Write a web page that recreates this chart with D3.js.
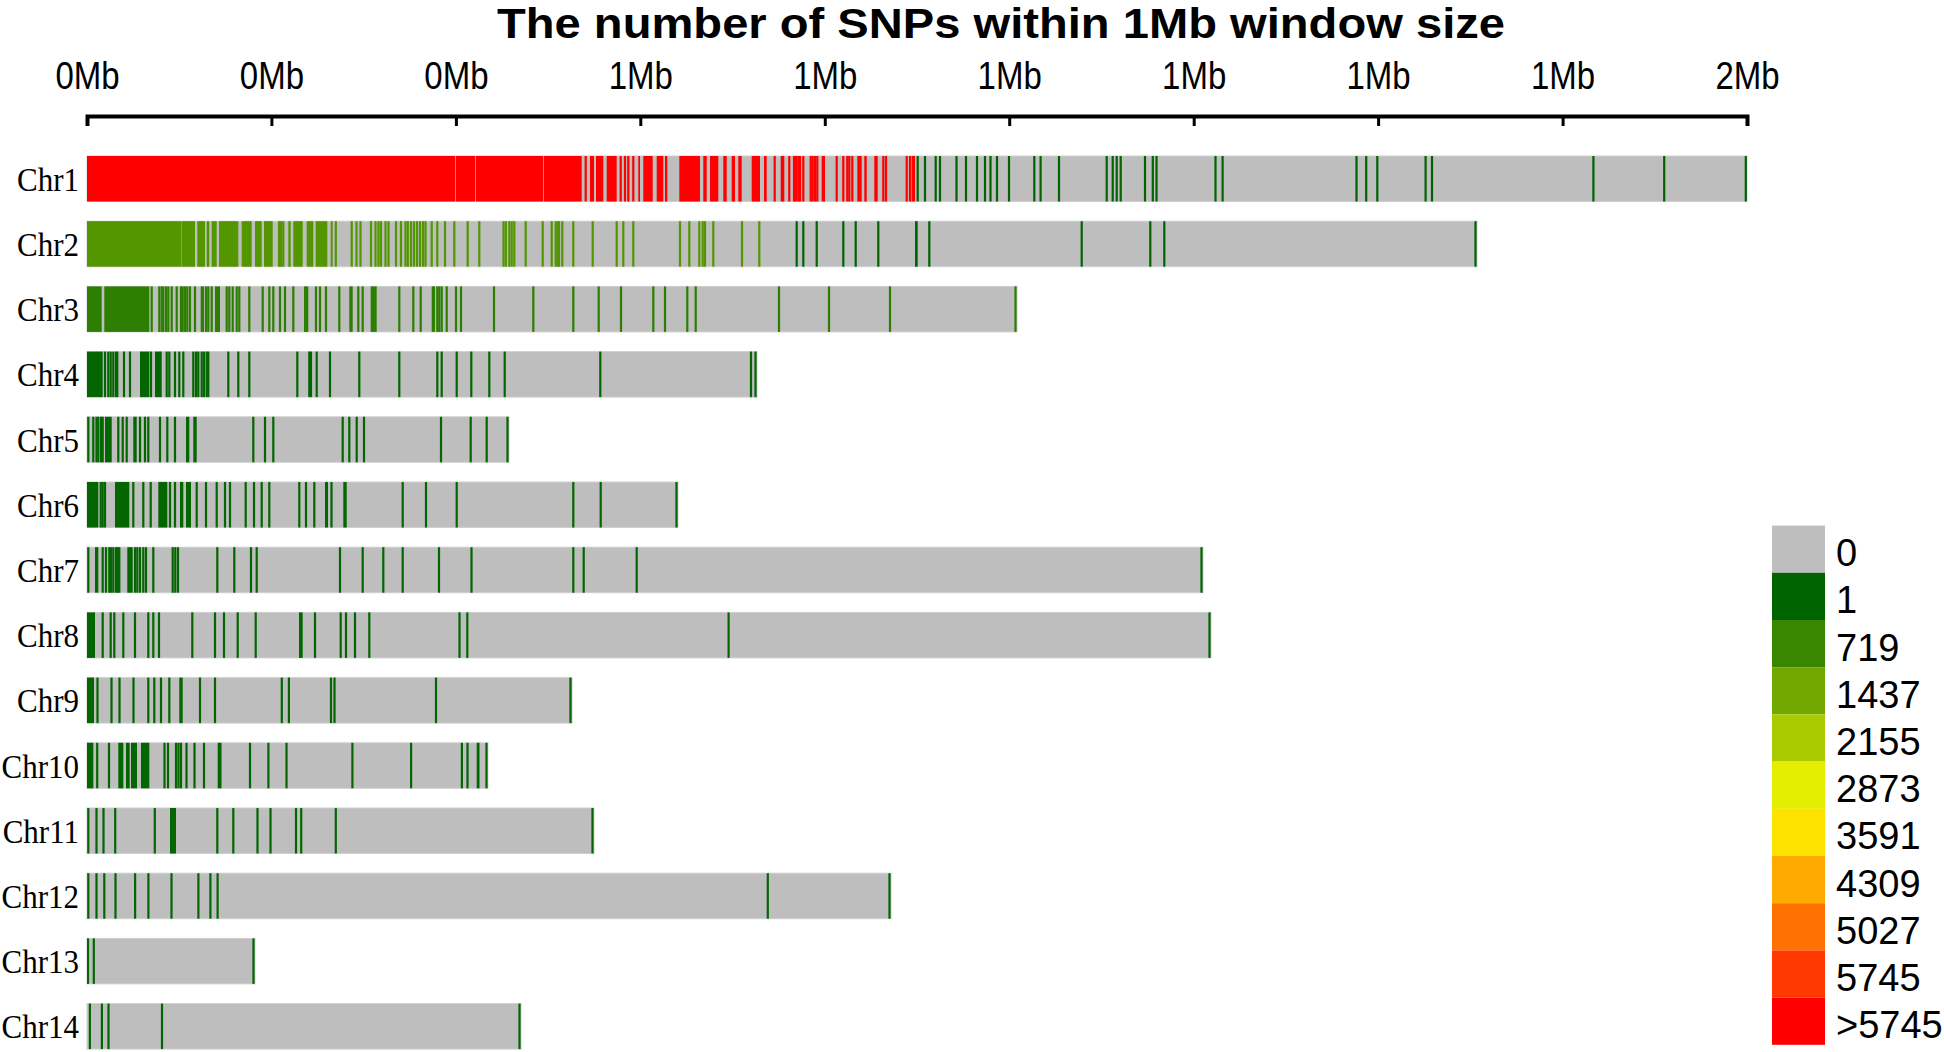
<!DOCTYPE html>
<html>
<head>
<meta charset="utf-8">
<script src="https://cdn.jsdelivr.net/npm/d3@7"></script>
<style>
  html, body { margin: 0; padding: 0; background: #ffffff; }
  svg { display: block; }
</style>
</head>
<body>
<svg id="chart" width="1944" height="1052"></svg>
<script>
// ---------------- data ----------------
const titleText = "The number of SNPs within 1Mb window size";
const chromosomes = ["Chr1","Chr2","Chr3","Chr4","Chr5","Chr6","Chr7","Chr8","Chr9","Chr10","Chr11","Chr12","Chr13","Chr14"];
const chromLengthsKb = [1660, 1390, 930, 670, 422, 591, 1116, 1124, 485, 401, 507, 804, 168, 434];
const tickValuesKb = [0, 184.4, 368.9, 553.3, 737.8, 922.2, 1106.7, 1291.1, 1475.6, 1660];
const tickLabels = ["0Mb","0Mb","0Mb","1Mb","1Mb","1Mb","1Mb","1Mb","1Mb","2Mb"];
const legendLabels = ["0","1","719","1437","2155","2873","3591","4309","5027","5745",">5745"];
const legendBreaks = [0, 1, 719, 1437, 2155, 2873, 3591, 4309, 5027, 5745, 6463];

// window positions (kb): a number = one window, [start, end] = a run of windows
const chr1Dense = [[0,368],[368.7,388.2],[388.9,456],[456.7,494.7],498.7,[503,507],[509,516.3],[519.7,529.7],533.7,538,541.3,546.3,[551.3,553],[556.3,565.7],[569.7,576.3],[578,580.3],[592.3,613],[616.3,619.7],[623,631.3],[636.3,639.7],[644.7,648],[651.3,654.7],[664.7,673],[677,679.7],687.7,[693.7,697.3],702.3,707,709,711.3,713,716.3,723.7,725.7,728,730.3,[734.7,738],749.7,756.3,760.3,762.3,765.3,[770.3,774.7],[777.3,779.7],[787.3,790.7],796.3,799,819.7,823,[824.7,828]];
const chr1Sparse = [830.7,838,848.7,853,869.5,879,890,898,903.5,910,922,947.3,953.6,972,1019.7,1025.7,1029.7,1033.7,1058,1065.8,1069.5,1128.5,1135.6,1269.5,1279.2,1290.3,1338.6,1345,1506.4,1577.2,1658.8];
const chr2Mid = [[0,94.5],[94.9,108],[110.3,118],[119.7,122.3],[124.7,129.7],[132,151.3],[154.7,164.7],[168,174.7],[177,185.7],192,194,196.3,[201.3,203.7],[206.3,215.7],[219.7,226.3],[228.7,240.3],[243.7,245.7],248.8,264.7,269.5,273.5,284,288.5,291.5,294,298.5,301.5,309,314,318.5,320.8,324,327,330,333,336,338.5,344.7,350.3,358,367.3,380.7,392.3,416.5,418.8,422.3,424.7,427.3,438.7,455.7,464.7,468.7,470.7,472,475.3,486.3,505.7,529.7,536.3,546.3,593,602.3,612.3,615.7,618,626.3,655,672.3];
const chr2Sparse = [709.7,716.3,729.7,756.3,768.7,791.3,[828,830.7],842.3,994.7,1063.3,1077.3,1388.5];
const chr3Win = [[0,14.7],[17.3,62.3],64.7,72.3,74.7,76.3,79,81.3,84.7,89.7,94,95.7,98,100.3,103,108,[113.7,117],119,121.3,124.7,[128,133],139.7,142.3,145.7,149.7,152.3,162.3,175.7,182.3,186.3,193,198,206.3,[217,221.3],229,233,239,252.3,[262.3,265.7],271.3,275.7,[283.7,289.7],312.3,326.3,333.7,[344.7,348],350.3,352.3,354.7,359.7,369,374,407,446.3,486.3,511.7,534,566.3,578,600.3,608.7,692,742,803,928.5];
const chr4Win = [[0,15.7],18,21.3,23.7,26.3,29,30.3,37,43,[53,62.3],64,[68,74.7],79.7,82.3,88,92.3,96.3,106.3,109,111.3,114.7,117,119.7,121.3,141.3,151.3,162.3,210.3,222.3,224,229.7,243,272.3,312.3,350.3,354.7,369.7,384.3,402.3,417.7,513.3,664,668.5];
const chr5Win = [1.3,6.3,9.5,11.3,14,15.7,[18,24.7],31.3,35.7,39.7,[46.3,49.7],53,58,61.3,73,80.3,88,[99,102.3],[106.3,109.7],166.3,178,186.3,255.7,262.3,269.7,277,354,383.7,399.7,420.5];
const chr6Win = [[0,11.3],13.7,15.7,18,[28,42.3],46.3,56.3,63.7,[71.3,80.3],83,88,[93,96.3],[99,104],109.7,119,129.7,138,143,158.7,167,174.7,182.3,212.3,219,227.3,[238,241],244.5,[256.3,259.7],315.7,339,369.7,486.3,513.7,589.5];
const chr7Win = [1.3,[8,11.3],15.7,19,22.3,24,26.3,29,30.7,32.3,[40.3,45.7],48,50.3,53,56.3,59,66.3,85.7,88.3,91,130.3,147.3,164,169.7,253,275.7,296.3,315.7,352,384.5,486.3,496.7,549.7,1114.5];
const chr8Win = [[0,8],15.7,23.7,27.3,36.3,48,61.3,66.3,72,105.3,128,137,150.7,168.7,[212,215.7],228,253.7,259,268,282.3,372.5,380.3,641.6,1122.5];
const chr9Win = [[0,7],10.5,24.5,32.5,46.5,61.3,67.3,74,82.3,[92.3,95.7],113,128,194.8,201.9,244,247.5,349,483.5];
const chr10Win = [[0,6.3],10.2,22,[31.3,36.3],[39,42.7],[44,50],[54,62.3],77.5,81,89,91.5,94,99.5,107.5,117,[130.7,134.5],163,181.4,199.5,265.4,324.1,374.9,380.5,[389.7,392.5],399.5];
const chr11Win = [1.3,9.5,16.5,28.2,67.8,[83,89],130.3,146.3,170.5,183.5,209,214.2,248.8,505.5];
const chr12Win = [1.3,9.5,17.3,28.5,48.1,61.4,84.5,111.4,123.4,130.6,680.8,802.5];
const chr13Win = [1,6.8,166.5];
const chr14Win = [2.9,14.9,21.5,75,432.5];

// [chromosome, windows, SNP count per window]
const snpGroups = [
  ["Chr1", chr1Dense, 6500], ["Chr1", chr1Sparse, 3],
  ["Chr2", chr2Mid, 1050], ["Chr2", chr2Sparse, 3],
  ["Chr3", chr3Win, 560],
  ["Chr4", chr4Win, 40], ["Chr5", chr5Win, 40], ["Chr6", chr6Win, 40],
  ["Chr7", chr7Win, 40], ["Chr8", chr8Win, 40], ["Chr9", chr9Win, 40],
  ["Chr10", chr10Win, 40], ["Chr11", chr11Win, 40], ["Chr12", chr12Win, 40],
  ["Chr13", chr13Win, 40], ["Chr14", chr14Win, 40]
];
const windowWidthKb = 2.2;

// ---------------- drawing ----------------
const svg = d3.select("#chart");
const x = d3.scaleLinear().domain([0, 1660]).range([87, 1747]);
const y = d3.scaleBand().domain(chromosomes).range([156, 1049.1]).paddingInner(0.302).paddingOuter(0);
const ramp = d3.scaleLinear().domain([1, 3232, 6463]).range(["#006400", "#ffff00", "#ff0000"]).clamp(true);
const fillFor = v => v <= 0 ? "#bebebe" : ramp(v);

// title
svg.append("text")
  .attr("x", 1001).attr("y", 38)
  .attr("text-anchor", "middle")
  .attr("font-family", "'Liberation Sans', Arial, sans-serif")
  .attr("font-weight", "bold")
  .attr("font-size", 43)
  .attr("textLength", 1008)
  .attr("lengthAdjust", "spacingAndGlyphs")
  .text(titleText);

// axis
const axisY = 116, tickStretch = 1.15;
const axis = d3.axisTop(x)
  .tickValues(tickValuesKb)
  .tickFormat((d, i) => tickLabels[i])
  .tickSize(-10)
  .tickPadding(27);
const gAxis = svg.append("g").attr("transform", `translate(0,${axisY})`).call(axis);
gAxis.select(".domain").attr("stroke", "#000").attr("stroke-width", 4).attr("fill", "none");
gAxis.selectAll(".tick line").attr("stroke", "#000").attr("stroke-width", 3);
gAxis.selectAll(".tick text")
  .attr("font-family", "'Liberation Sans', Arial, sans-serif")
  .attr("font-size", 33)
  .attr("fill", "#000")
  .attr("y", -27 / tickStretch)
  .attr("transform", `scale(1,${tickStretch})`);

// chromosome bars
const lenOf = new Map(chromosomes.map((c, i) => [c, chromLengthsKb[i]]));
svg.append("g").selectAll("rect")
  .data(chromosomes)
  .join("rect")
  .attr("x", c => x(0))
  .attr("y", c => y(c))
  .attr("width", c => x(lenOf.get(c)) - x(0))
  .attr("height", y.bandwidth())
  .attr("fill", fillFor(0))
  .attr("stroke", "#cfcfcf")
  .attr("stroke-width", 1);

// density windows
const windows = [];
snpGroups.forEach(([chr, list, count]) => {
  const L = lenOf.get(chr);
  list.forEach(w => {
    let s, e;
    if (Array.isArray(w)) { s = w[0]; e = w[1]; }
    else { s = w - windowWidthKb / 2; e = w + windowWidthKb / 2; }
    s = Math.max(0, s); e = Math.min(L, e);
    windows.push({ chr, s, e, count });
  });
});
svg.append("g").selectAll("rect")
  .data(windows)
  .join("rect")
  .attr("x", d => x(d.s))
  .attr("y", d => y(d.chr))
  .attr("width", d => Math.max(0.5, x(d.e) - x(d.s)))
  .attr("height", y.bandwidth())
  .attr("fill", d => fillFor(d.count));

// chromosome labels
const labStretch = 1.1;
svg.append("g").selectAll("text")
  .data(chromosomes)
  .join("text")
  .attr("x", 79)
  .attr("y", c => (y(c) + y.bandwidth() / 2 + 12) / labStretch)
  .attr("transform", `scale(1,${labStretch})`)
  .attr("text-anchor", "end")
  .attr("font-family", "'Liberation Serif', 'Times New Roman', serif")
  .attr("font-size", 31)
  .attr("fill", "#000")
  .text(c => c);

// legend
const ly = d3.scaleBand().domain(legendLabels).range([525.6, 1044.8]).padding(0);
const gLeg = svg.append("g");
gLeg.selectAll("rect")
  .data(legendLabels)
  .join("rect")
  .attr("x", 1772)
  .attr("y", d => ly(d))
  .attr("width", 53)
  .attr("height", ly.bandwidth())
  .attr("fill", (d, i) => fillFor(legendBreaks[i]));
gLeg.selectAll("text")
  .data(legendLabels)
  .join("text")
  .attr("x", 1836)
  .attr("y", d => ly(d) + ly.bandwidth() / 2 + 17)
  .attr("font-family", "'Liberation Sans', Arial, sans-serif")
  .attr("font-size", 38)
  .attr("fill", "#000")
  .text(d => d);
</script>
</body>
</html>
